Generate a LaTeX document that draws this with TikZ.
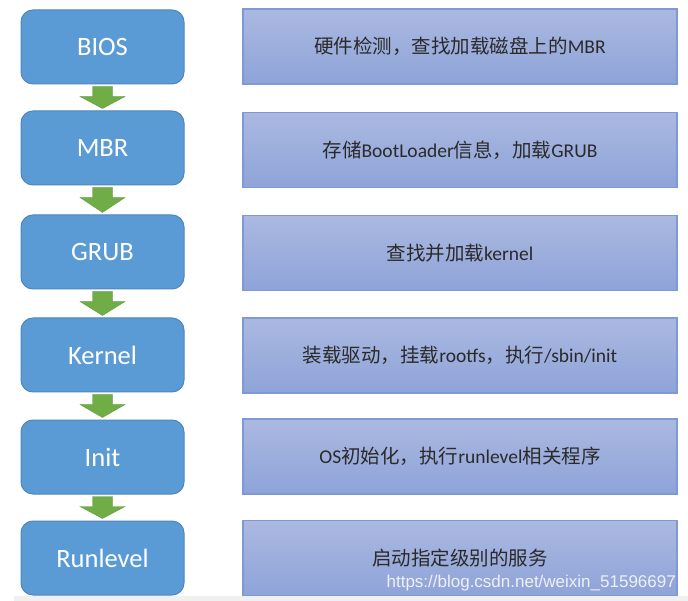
\documentclass[tikz,border=0pt]{standalone}
\usepackage{fontspec}
\setmainfont{Carlito}
\newfontfamily\cjk{Noto Sans CJK SC}
\newfontfamily\wmfont{Liberation Sans}
\usetikzlibrary{calc}
\definecolor{lbfill}{HTML}{5B9BD5}
\definecolor{lbline}{HTML}{4F86BD}
\definecolor{rbtop}{HTML}{ABB9E1}
\definecolor{rbbot}{HTML}{8EA3D8}
\definecolor{rbline}{HTML}{7D99D6}
\definecolor{garrow}{HTML}{70AD47}
\definecolor{garrowline}{HTML}{5F9A3B}
\definecolor{txtdark}{HTML}{2A2A2A}
\definecolor{barg}{HTML}{F0F0F0}
\definecolor{wmc}{HTML}{EEF0F8}
\newcommand{\cz}[1]{{\cjk #1}}
\newcommand{\flowarrow}[2]{%
  \draw[blockarrow] ($(#1.south)+(-10,2)$) -- ($(#1.south)+(10,2)$) -- ($(#1.south)+(10,12)$)
    -- ($(#1.south)+(22.5,12)$) -- ($(#2.north)+(0,-2)$) -- ($(#1.south)+(-22.5,12)$)
    -- ($(#1.south)+(-10,12)$) -- cycle;}
\begin{document}
\begin{tikzpicture}[x=1pt,y=-1pt,
  stage/.style={draw=lbline, line width=1pt, fill=lbfill, rounded corners=12pt,
    minimum width=163pt, minimum height=74pt, inner sep=0pt, text=white,
    font=\fontsize{26.5}{30}\selectfont},
  desc/.style={draw=rbline, line width=1.2pt, top color=rbtop, bottom color=rbbot,
    minimum width=434pt, minimum height=75pt, inner sep=0pt, text=txtdark,
    font=\fontsize{19.5}{23}\selectfont},
  blockarrow/.style={fill=garrow, draw=garrowline, line width=0.4pt, line join=miter}]
\useasboundingbox (0,0) rectangle (688,601);
\fill[white] (0,0) rectangle (688,601);

\node[stage] (bios) at (102.5,47) {BIOS};
\node[stage] (mbr) at (102.5,148) {MBR};
\node[stage] (grub) at (102.5,252) {GRUB};
\node[stage] (kernel) at (102.5,355) {Kernel};
\node[stage] (init) at (102.5,457) {Init};
\node[stage] (runlevel) at (102.5,558) {Runlevel};

\node[desc] (dbios) at (460,46.5) {\cz{硬件检测，查找加载磁盘上的}MBR};
\node[desc] (dmbr) at (460,150) {\cz{存储}BootLoader\cz{信息，加载}GRUB};
\node[desc] (dgrub) at (460,253) {\cz{查找并加载}kernel};
\node[desc] (dkernel) at (460,355.5) {\cz{装载驱动，挂载}rootfs\cz{，执行}/sbin/init};
\node[desc] (dinit) at (460,456.5) {OS\cz{初始化，执行}runlevel\cz{相关程序}};
\node[desc] (drunlevel) at (460,558) {\cz{启动指定级别的服务}};

\flowarrow{bios}{mbr}
\flowarrow{mbr}{grub}
\flowarrow{grub}{kernel}
\flowarrow{kernel}{init}
\flowarrow{init}{runlevel}

\node[anchor=base east, inner sep=0pt, text=wmc, font=\wmfont\fontsize{17}{20}\selectfont]
  (wm) at (676,587) {https://blog.csdn.net/weixin\_51596697};

\fill[barg] (14,596) rectangle (688,601);
\end{tikzpicture}
\end{document}
